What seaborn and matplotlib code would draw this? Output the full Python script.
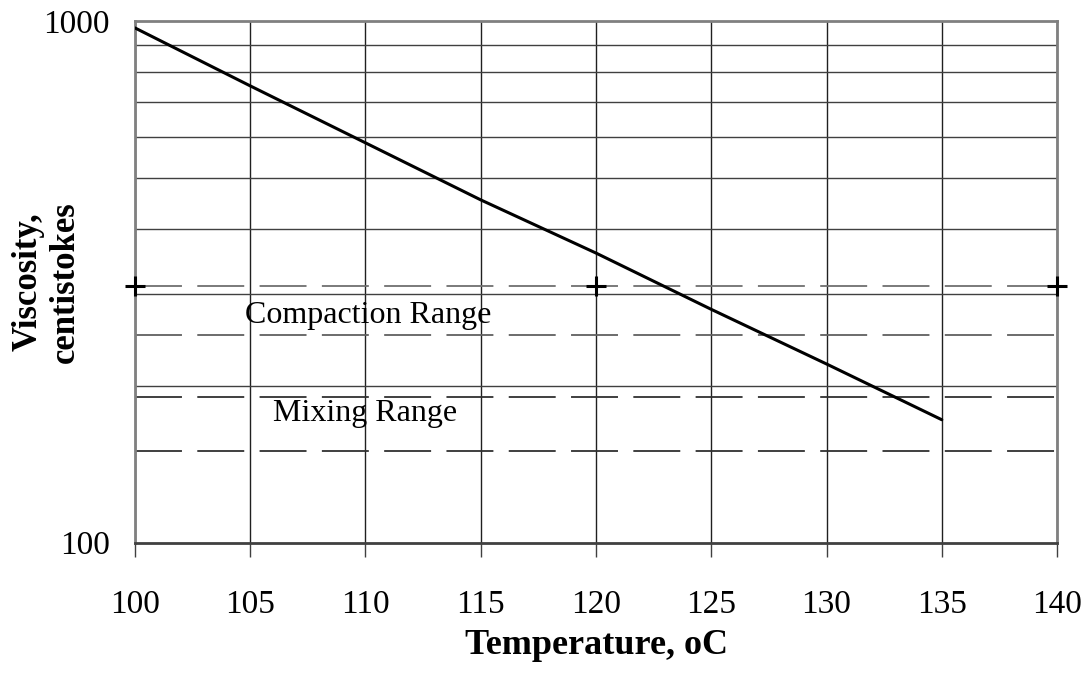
import matplotlib
import matplotlib.pyplot as plt
import pandas as pd
import seaborn as sns

matplotlib.use("Agg")

# Viscosity-temperature line
temperature = [100, 105, 110, 115, 120, 125, 130, 135]
viscosity = [970, 751, 584, 454, 359, 280, 220, 172]

# Range limits (centistokes)
compaction_range = [310, 250]
mixing_range = [190, 150]
range_x = [100, 140]
marker_x = [100, 120, 140]

x_ticks = [100, 105, 110, 115, 120, 125, 130, 135, 140]
y_ticks = [100, 1000]
y_minor = [200, 300, 400, 500, 600, 700, 800, 900]

sns.set_style("white")
plt.rcParams["font.family"] = ["Liberation Serif", "DejaVu Serif"]
plt.rcParams["text.color"] = "black"
plt.rcParams["axes.labelcolor"] = "black"
plt.rcParams["xtick.color"] = "black"
plt.rcParams["ytick.color"] = "black"

df = pd.DataFrame({"Temperature": temperature, "Viscosity": viscosity})

fig, ax = plt.subplots(figsize=(10.92, 6.74), dpi=100)
fig.subplots_adjust(left=0.1236, right=0.968, top=0.9688, bottom=0.195)

ax.set_yscale("log")

# range lines
for lim, col in [(compaction_range[0], "#707070"), (compaction_range[1], "#606060"),
                 (mixing_range[0], "#303030"), (mixing_range[1], "#303030")]:
    rng = pd.DataFrame({"x": range_x, "y": [lim, lim]})
    sns.lineplot(data=rng, x="x", y="y", ax=ax, color=col, linewidth=1.3,
                 dashes=False, zorder=2)
    ax.lines[-1].set_dashes((26, 8.5))

sns.scatterplot(x=marker_x, y=[compaction_range[0]] * 3, ax=ax, marker="+",
                s=220, color="black", linewidth=2.2, zorder=5, clip_on=False)

sns.lineplot(data=df, x="Temperature", y="Viscosity", ax=ax, color="black",
             linewidth=2.2, zorder=4)

ax.set_xlim(100, 140)
ax.set_ylim(100, 1000)
ax.set_xticks(x_ticks)
ax.set_xticklabels([str(t) for t in x_ticks])
ax.set_yticks(y_ticks)
ax.set_yticklabels([str(t) for t in y_ticks])
ax.set_yticks(y_minor, minor=True)
ax.yaxis.set_minor_formatter(matplotlib.ticker.NullFormatter())

ax.grid(True, which="major", axis="x", color="#202020", linewidth=1.0)
ax.grid(True, which="minor", axis="y", color="#404040", linewidth=1.0)
ax.tick_params(axis="x", which="major", direction="out", length=10, width=1,
               color="#404040", labelsize=24, pad=24, bottom=True)
ax.tick_params(axis="y", which="both", length=0, labelsize=24, pad=18)

for side in ["top", "left", "right"]:
    ax.spines[side].set_color("#808080")
    ax.spines[side].set_linewidth(2)
ax.spines["bottom"].set_color("#404040")
ax.spines["bottom"].set_linewidth(2)

ax.text(110.1, 272, "Compaction Range", fontsize=23, ha="center", va="center")
ax.text(110.0, 177, "Mixing Range", fontsize=23, ha="center", va="center")

ax.set_xlabel("Temperature, oC", fontsize=26, fontweight="bold", labelpad=6)
ax.set_ylabel("Viscosity,\ncentistokes", fontsize=25, fontweight="bold",
              linespacing=1.15)
ax.yaxis.set_label_coords(-0.058, 0.5)

plt.savefig("out.png", dpi=100)
